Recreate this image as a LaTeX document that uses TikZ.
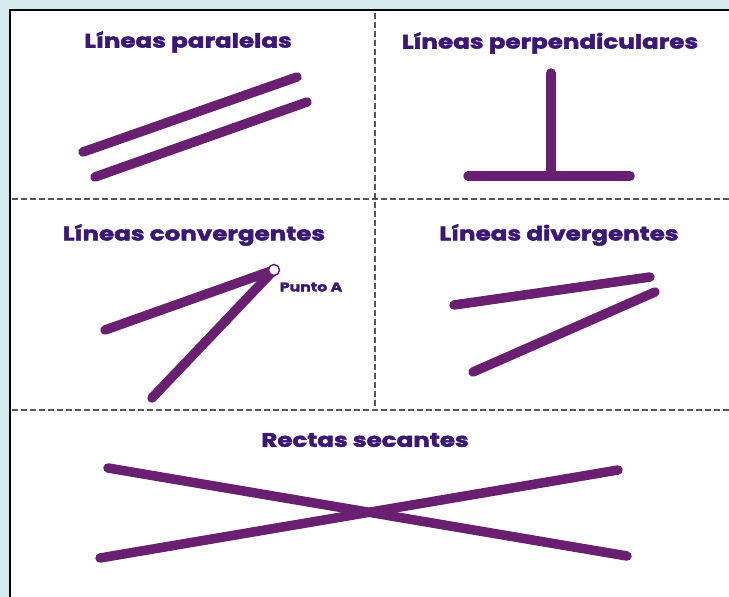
\documentclass[tikz,border=0pt]{standalone}
\usepackage{fontspec}
\setmainfont{Poppins}
\newfontfamily\rotulo{Poppins}[FakeStretch=1.26,FakeBold=2.6]
\usetikzlibrary{positioning}
\definecolor{fondo}{HTML}{D5EBEE}
\definecolor{morado}{HTML}{6A2070}
\definecolor{tinta}{HTML}{3B1878}
\definecolor{guion}{HTML}{555555}

\begin{document}
\begin{tikzpicture}[x=1pt,y=-1pt,
  titulo/.style={text=tinta,font=\rotulo\bfseries\fontsize{19.5}{19.5}\selectfont,inner sep=0pt},
  recta/.style={morado,line width=9.5pt,line cap=round},
  corte/.style={guion,line width=1.6pt,dash pattern=on 6pt off 3pt}]
  \useasboundingbox (0,0) rectangle (729,597);
  \fill [fondo] (0,0) rectangle (729,597);
  \draw [fill=white,line width=2.5pt] (10,10) rectangle (745,610);

  % separadores
  \draw [corte] (375,13) -- (375,410);
  \draw [corte] (12,199) -- (729,199);
  \draw [corte] (12,410) -- (729,410);

  % titulos
  \node [titulo] (par) at (188,42)  {Líneas paralelas};
  \node [titulo] (per) at (550,43)  {Líneas perpendiculares};
  \node [titulo] (con) at (194,235) {Líneas convergentes};
  \node [titulo] (div) at (559,235) {Líneas divergentes};
  \node [titulo] (sec) at (365,440) {Rectas secantes};

  % paralelas
  \draw [recta] (83,152) -- (297,77);
  \draw [recta] (95,177) -- (307,102);

  % perpendiculares
  \draw [recta] (551,73) -- (551,176);
  \draw [recta] (468,176) -- (630,176);

  % convergentes
  \coordinate (A) at (274,270);
  \draw [recta] (105,330) -- (A);
  \draw [recta] (152,398) -- (A);
  \node [circle,draw=morado,fill=white,line width=1.5pt,minimum size=11pt,inner sep=0pt] (pA) at (A) {};
  \node [text=tinta,font=\rotulo\bfseries\fontsize{12.5}{12.5}\selectfont,inner sep=0pt] (lA) at (311,287) {Punto A};

  % divergentes
  \draw [recta] (454,305) -- (650,277);
  \draw [recta] (473,372) -- (655,292);

  % secantes
  \draw [recta] (108,468) -- (627,556);
  \draw [recta] (100,558) -- (618,470);
\end{tikzpicture}
\end{document}
